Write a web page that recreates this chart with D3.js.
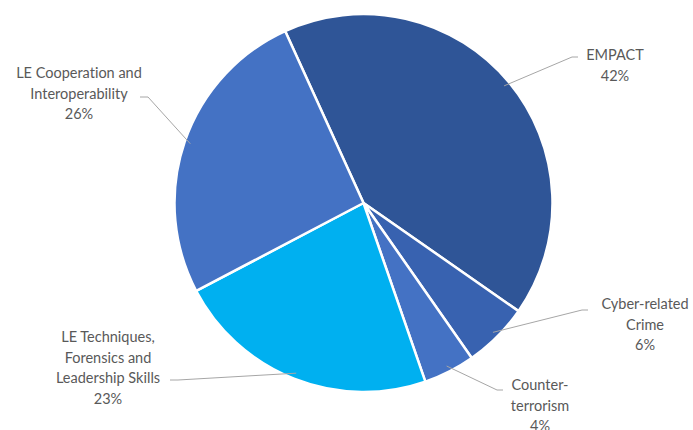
<!DOCTYPE html>
<html><head><meta charset="utf-8">
<script src="https://cdn.jsdelivr.net/npm/d3@7"></script>
<style>html,body{margin:0;padding:0;background:#fff;}svg{display:block;}text{font-variant-ligatures:none;font-feature-settings:"liga" 0;}</style>
</head><body>
<svg id="chart" width="693" height="430"></svg>
<script>
// Data
const categories = ["EMPACT", "Cyber-related Crime", "Counter-terrorism", "LE Techniques, Forensics and Leadership Skills", "LE Cooperation and Interoperability"];
const values = [41.5, 5.6, 4.4, 22.6, 25.9];
const labelLines = [["EMPACT"], ["Cyber-related", "Crime"], ["Counter-", "terrorism"], ["LE Techniques,", "Forensics and", "Leadership Skills"], ["LE Cooperation and", "Interoperability"]];
const colors = ["#2f5597", "#3862b0", "#4472c4", "#00b0f0", "#4472c4"];

// Layout (label anchor positions: text center x, first line y; elbow x)
const layout = [
  {tx: 615, ty: 55, ex: 578, ey: 57, side: "right"},
  {tx: 645, ty: 304, ex: 588, ey: 310, side: "right"},
  {tx: 540, ty: 385, ex: 503, ey: 390, side: "right"},
  {tx: 108, ty: 337, ex: 170, ey: 380, side: "left"},
  {tx: 79, ty: 73, ex: 140, ey: 97, side: "left"}
];

const svg = d3.select("#chart");
const cx = 363.5, cy = 203, r = 189;
const startAngle = -24.5 * Math.PI / 180;
const pie = d3.pie().sort(null).value(d => d).startAngle(startAngle).endAngle(startAngle + 2 * Math.PI);
const arcs = pie(values);
const arc = d3.arc().innerRadius(0).outerRadius(r);
const g = svg.append("g").attr("transform", `translate(${cx},${cy})`);

g.selectAll("path.slice").data(arcs).join("path")
  .attr("class", "slice")
  .attr("d", arc)
  .attr("fill", (d, i) => colors[i])
  .attr("stroke", "#fff")
  .attr("stroke-width", 2.5)
  .attr("stroke-linejoin", "round");

// Leader lines
arcs.forEach((d, i) => {
  const L = layout[i];
  const a = (d.startAngle + d.endAngle) / 2;
  const px = cx + Math.sin(a) * (r - 6);
  const py = cy - Math.cos(a) * (r - 6);
  const knee = L.side === "right" ? L.ex - 6 : L.ex + 8;
  svg.append("polyline")
    .attr("points", `${L.ex},${L.ey} ${knee},${L.ey} ${px},${py}`)
    .attr("fill", "none")
    .attr("stroke", "#a6a6a6")
    .attr("stroke-width", 1);
});

// Labels
const lineH = 20.5;
arcs.forEach((d, i) => {
  const L = layout[i];
  const lines = labelLines[i].concat([Math.round(values[i]) + "%"]);
  const t = svg.append("text")
    .attr("text-anchor", "middle")
    .attr("font-family", "Lato, 'Open Sans', sans-serif")
    .attr("font-size", 14.5)
    .attr("fill", "#595959");
  lines.forEach((s, k) => {
    t.append("tspan").attr("x", L.tx).attr("y", L.ty + k * lineH).attr("dy", "0.35em").text(s);
  });
});
</script>
</body></html>
